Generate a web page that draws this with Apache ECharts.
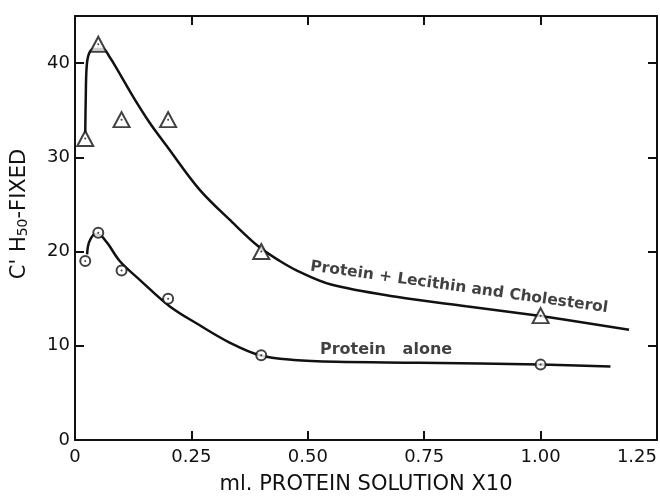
<!DOCTYPE html>
<html>
<head>
<meta charset="utf-8">
<script src="https://cdn.jsdelivr.net/npm/echarts@6/dist/echarts.min.js"></script>
<style>
  html, body { margin: 0; padding: 0; background: #fff; }
  #chart { width: 660px; height: 498px; }
</style>
</head>
<body>
<div id="chart"></div>
<script>
// measured points (ml protein solution x10, C'H50 fixed)
const lecithinPoints = [[0.022, 32], [0.05, 42], [0.1, 34], [0.2, 34], [0.4, 20], [1.0, 13.2]];
const alonePoints = [[0.022, 19], [0.05, 22], [0.1, 18], [0.2, 15], [0.4, 9], [1.0, 8]];

// hand-drawn curves
const lecithinCurve = [
  [0.022, 32.6], [0.023, 36], [0.025, 39.6], [0.03, 41], [0.04, 41.5], [0.06, 41.5],
  [0.075, 40.6], [0.09, 39.4], [0.124, 36.5], [0.16, 33.7], [0.197, 31.2], [0.267, 26.6],
  [0.338, 23.1], [0.395, 20.5], [0.44, 19], [0.48, 17.9], [0.55, 16.5], [0.69, 15.2],
  [0.84, 14.2], [0.98, 13.3], [1.05, 12.8], [1.19, 11.7]
];
const aloneCurve = [
  [0.026, 19.7], [0.028, 20.6], [0.033, 21.3], [0.042, 21.8], [0.05, 21.8], [0.068, 21],
  [0.096, 19], [0.139, 17], [0.203, 14.2], [0.267, 12.2], [0.33, 10.4], [0.397, 9.0],
  [0.47, 8.5], [0.56, 8.3], [0.74, 8.2], [1.0, 8.0], [1.15, 7.8]
];

const xTicks = ['0', '0.25', '0.50', '0.75', '1.00', '1.25'];
const yTicks = ['0', '10', '20', '30', '40'];

// curve labels: [x, y, text, rotate, font size]
const curveLabels = [
  [0.825, 16.2, 'Protein + Lecithin and Cholesterol', -8, 15.5],
  [0.668, 9.6, 'Protein   alone', 0, 16]
];

const INK = '#111';
const FONT = 'DejaVu Sans';

const chart = echarts.init(document.getElementById('chart'));

const baseX = {
  type: 'value', min: 0, max: 1.25, interval: 0.25,
  axisLine: { onZero: false, lineStyle: { color: INK, width: 2 } },
  axisTick: { inside: true, length: 9, lineStyle: { color: INK, width: 2 } },
  splitLine: { show: false }
};
const baseY = {
  type: 'value', min: 0, max: 45, interval: 10,
  axisLine: { onZero: false, lineStyle: { color: INK, width: 2 } },
  axisTick: { inside: true, length: 9, lineStyle: { color: INK, width: 2 } },
  splitLine: { show: false }
};

const option = {
  animation: false,
  backgroundColor: '#fff',
  grid: { left: 75, right: 3, top: 16, bottom: 58, outerBoundsMode: 'none' },
  xAxis: [
    Object.assign({}, baseX, {
      position: 'bottom',
      name: 'ml. PROTEIN SOLUTION X10',
      nameLocation: 'middle',
      nameGap: 34,
      nameTextStyle: { fontFamily: FONT, fontSize: 21, color: INK },
      axisLabel: {
        margin: 8, fontFamily: FONT, fontSize: 18, color: INK,
        alignMaxLabel: 'right',
        formatter: (v) => xTicks[Math.round(v / 0.25)]
      }
    }),
    Object.assign({}, baseX, { position: 'top', axisLabel: { show: false } })
  ],
  yAxis: [
    Object.assign({}, baseY, {
      position: 'left',
      axisLabel: {
        margin: 5, fontFamily: FONT, fontSize: 18, color: INK,
        showMaxLabel: false,
        formatter: (v) => yTicks[Math.round(v / 10)] || ''
      }
    }),
    Object.assign({}, baseY, { position: 'right', axisLabel: { show: false } })
  ],
  graphic: [{
    type: 'text',
    x: 20, y: 214,
    rotation: Math.PI / 2,
    style: {
      text: "C' H{s|50}-FIXED",
      fontFamily: FONT, fontSize: 21, fill: INK,
      align: 'center', verticalAlign: 'middle',
      rich: { s: { fontFamily: FONT, fontSize: 14, fill: INK, verticalAlign: 'bottom', lineHeight: 16 } }
    }
  }],
  series: [
    {
      type: 'line', data: lecithinCurve, smooth: 0.35, showSymbol: false,
      lineStyle: { color: INK, width: 2.5 }, z: 2
    },
    {
      type: 'line', data: aloneCurve, smooth: 0.35, showSymbol: false,
      lineStyle: { color: INK, width: 2.5 }, z: 2
    },
    {
      type: 'scatter', data: lecithinPoints, symbol: 'triangle', symbolSize: [16, 15],
      itemStyle: { color: '#fff', borderColor: INK, borderWidth: 2 }, z: 3
    },
    {
      type: 'scatter', data: alonePoints, symbol: 'circle', symbolSize: 10,
      itemStyle: { color: '#fff', borderColor: INK, borderWidth: 2 }, z: 3
    },
    {
      type: 'scatter', data: lecithinPoints.concat(alonePoints), symbol: 'circle', symbolSize: 2,
      itemStyle: { color: INK }, z: 4
    },
    {
      type: 'scatter', symbolSize: 0, z: 5,
      data: curveLabels.map(d => ({
        value: [d[0], d[1]],
        label: { rotate: d[3], formatter: d[2], fontSize: d[4] }
      })),
      label: {
        show: true, position: 'inside', color: INK,
        fontFamily: FONT, fontWeight: 'bold'
      }
    }
  ]
};

chart.setOption(option);
</script>
</body>
</html>
